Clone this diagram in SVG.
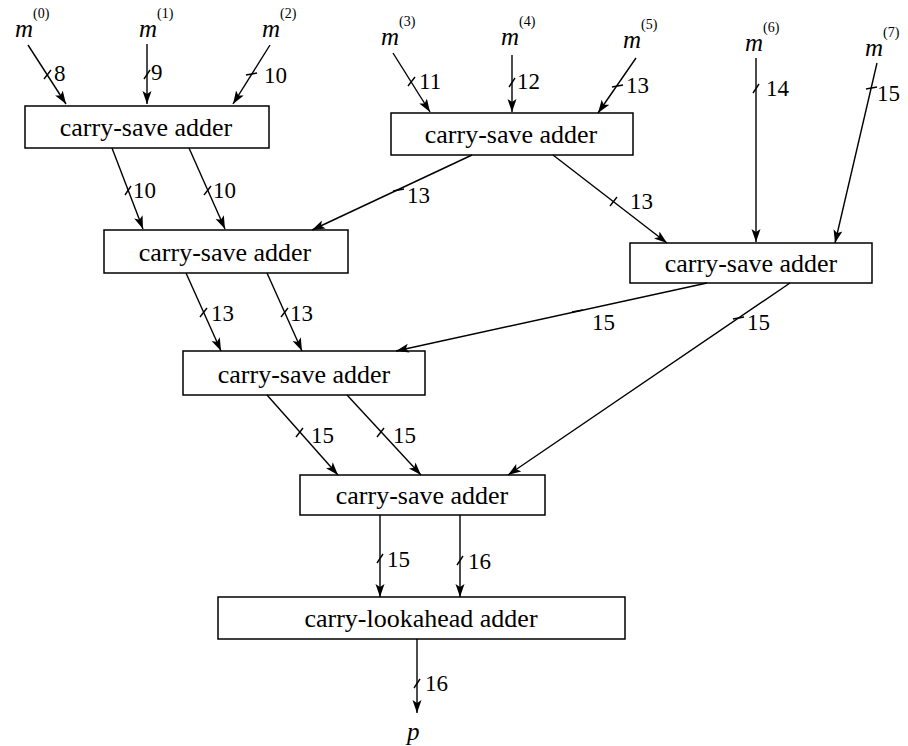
<svg xmlns="http://www.w3.org/2000/svg" width="908" height="746" viewBox="0 0 908 746">
<style>
.box{fill:#fff;stroke:#000;stroke-width:1.5}
.bt{font-family:"Liberation Serif","DejaVu Serif","Times New Roman",serif;font-size:26px;text-anchor:middle;fill:#000}
.lb{font-family:"Liberation Serif","DejaVu Serif","Times New Roman",serif;font-size:23px;fill:#000}
.mv{font-family:"Liberation Serif","DejaVu Serif","Times New Roman",serif;font-size:25px;font-style:italic;fill:#000}
.sup{font-size:14px;font-style:normal}
.ln{stroke:#000;stroke-width:1.4;fill:none}
.tk{stroke:#000;stroke-width:1.4;fill:none}
</style>
<defs>
<marker id="ah" markerUnits="userSpaceOnUse" markerWidth="14" markerHeight="10" refX="13" refY="4.5" orient="auto">
<path d="M0,0 L13,4.5 L0,9 L3,4.5 Z" fill="#000"/>
</marker>
</defs>
<g id="inputs">
<text class="mv" x="15" y="37">m<tspan class="sup" dy="-19">(0)</tspan></text>
<text class="mv" x="139" y="37">m<tspan class="sup" dy="-19">(1)</tspan></text>
<text class="mv" x="262" y="37">m<tspan class="sup" dy="-19">(2)</tspan></text>
<text class="mv" x="381" y="45">m<tspan class="sup" dy="-19">(3)</tspan></text>
<text class="mv" x="501" y="45">m<tspan class="sup" dy="-19">(4)</tspan></text>
<text class="mv" x="623" y="48">m<tspan class="sup" dy="-19">(5)</tspan></text>
<text class="mv" x="745" y="51">m<tspan class="sup" dy="-19">(6)</tspan></text>
<text class="mv" x="865" y="56">m<tspan class="sup" dy="-19">(7)</tspan></text>
</g>
<g id="csa1"><rect class="box" x="25" y="106" width="244" height="42"/><text class="bt" x="146" y="136">carry-save adder</text></g>
<g id="csa2"><rect class="box" x="391" y="113" width="242" height="42"/><text class="bt" x="511" y="143">carry-save adder</text></g>
<g id="csa3"><rect class="box" x="104" y="230" width="244" height="43"/><text class="bt" x="225" y="261">carry-save adder</text></g>
<g id="csa4"><rect class="box" x="630" y="243" width="242" height="40"/><text class="bt" x="751" y="272">carry-save adder</text></g>
<g id="csa5"><rect class="box" x="183" y="351" width="242" height="44"/><text class="bt" x="304" y="383">carry-save adder</text></g>
<g id="csa6"><rect class="box" x="300" y="475" width="245" height="40"/><text class="bt" x="422" y="504">carry-save adder</text></g>
<g id="cla"><rect class="box" x="218" y="597" width="407" height="42"/><text class="bt" x="421" y="627">carry-lookahead adder</text></g>
<g id="connectors">
<path class="ln" marker-end="url(#ah)" d="M28,45 L66,104"/>
<path class="ln" marker-end="url(#ah)" d="M147,44 L147,104"/>
<path class="ln" marker-end="url(#ah)" d="M270,45 L233,104"/>
<path class="ln" marker-end="url(#ah)" d="M393,53 L430,112"/>
<path class="ln" marker-end="url(#ah)" d="M512,55 L512,112"/>
<path class="ln" marker-end="url(#ah)" d="M636,58 L598,113"/>
<path class="ln" marker-end="url(#ah)" d="M756,58 L756,242"/>
<path class="ln" marker-end="url(#ah)" d="M877,63 L835,243"/>
<path class="ln" marker-end="url(#ah)" d="M112,148 L143,229"/>
<path class="ln" marker-end="url(#ah)" d="M189,148 L225,229"/>
<path class="ln" marker-end="url(#ah)" d="M472,155 L312,230"/>
<path class="ln" marker-end="url(#ah)" d="M553,155 L667,243"/>
<path class="ln" marker-end="url(#ah)" d="M186,273 L221,351"/>
<path class="ln" marker-end="url(#ah)" d="M267,273 L302,351"/>
<path class="ln" marker-end="url(#ah)" d="M707,283 L396,351"/>
<path class="ln" marker-end="url(#ah)" d="M790,283 L508,475"/>
<path class="ln" marker-end="url(#ah)" d="M267,395 L338,475"/>
<path class="ln" marker-end="url(#ah)" d="M347,395 L421,475"/>
<path class="ln" marker-end="url(#ah)" d="M380,515 L380,597"/>
<path class="ln" marker-end="url(#ah)" d="M460,515 L460,597"/>
<path class="ln" marker-end="url(#ah)" d="M417,639 L417,713"/>
<g id="ticks">
<path class="tk" d="M44,79 l7,-9"/>
<path class="tk" d="M144,79 l6,-9"/>
<path class="tk" d="M246,75 l11,-2"/>
<path class="tk" d="M408,86 l7,-9"/>
<path class="tk" d="M509,87 l6,-9"/>
<path class="tk" d="M612,87 l11,-2"/>
<path class="tk" d="M753,93 l6,-9"/>
<path class="tk" d="M866,89 l11,-2"/>
<path class="tk" d="M125,195 l6,-9"/>
<path class="tk" d="M204,195 l7,-9"/>
<path class="tk" d="M393,191 l11,-2"/>
<path class="tk" d="M610,206 l7,-9"/>
<path class="tk" d="M200,317 l7,-9"/>
<path class="tk" d="M281,317 l7,-9"/>
<path class="tk" d="M572,312 l11,-2"/>
<path class="tk" d="M733,319 l11,-2"/>
<path class="tk" d="M296,437 l7,-9"/>
<path class="tk" d="M377,437 l7,-9"/>
<path class="tk" d="M377,563 l6,-9"/>
<path class="tk" d="M457,565 l6,-9"/>
<path class="tk" d="M414,688 l6,-9"/>
</g>
</g>
<g id="labels">
<text class="lb" x="54" y="81">8</text>
<text class="lb" x="151" y="80">9</text>
<text class="lb" x="264" y="83">10</text>
<text class="lb" x="419" y="89">11</text>
<text class="lb" x="517" y="89">12</text>
<text class="lb" x="626" y="93">13</text>
<text class="lb" x="766" y="96">14</text>
<text class="lb" x="877" y="101">15</text>
<text class="lb" x="133" y="198">10</text>
<text class="lb" x="213" y="198">10</text>
<text class="lb" x="407" y="203">13</text>
<text class="lb" x="630" y="209">13</text>
<text class="lb" x="211" y="321">13</text>
<text class="lb" x="290" y="321">13</text>
<text class="lb" x="592" y="330">15</text>
<text class="lb" x="747" y="330">15</text>
<text class="lb" x="311" y="443">15</text>
<text class="lb" x="393" y="443">15</text>
<text class="lb" x="387" y="567">15</text>
<text class="lb" x="468" y="569">16</text>
<text class="lb" x="425" y="691">16</text>
<text class="mv" x="407" y="740">p</text>
</g>
</svg>
